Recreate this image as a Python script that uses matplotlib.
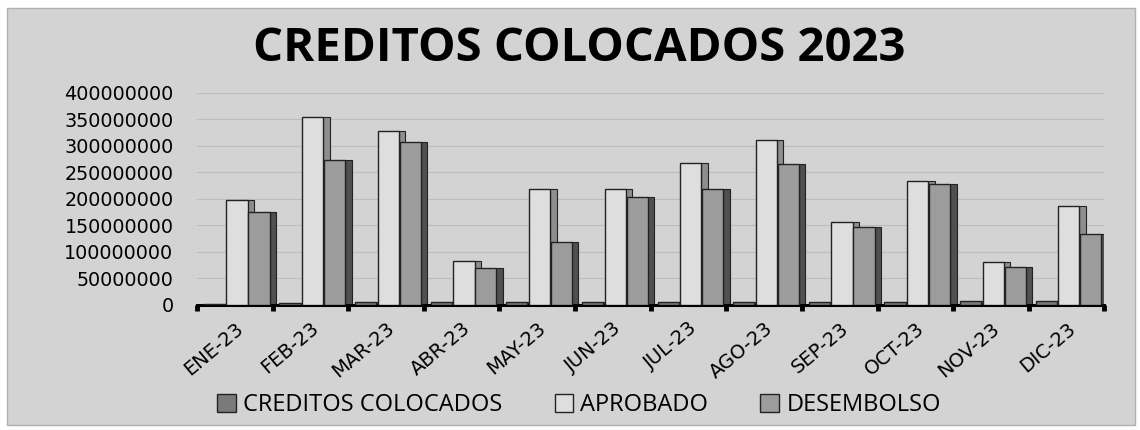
import matplotlib
matplotlib.use("Agg")
import matplotlib.pyplot as plt
import numpy as np
from matplotlib.patches import Rectangle, Patch
from matplotlib.ticker import FuncFormatter, FixedLocator

months = ["ENE-23", "FEB-23", "MAR-23", "ABR-23", "MAY-23", "JUN-23",
          "JUL-23", "AGO-23", "SEP-23", "OCT-23", "NOV-23", "DIC-23"]
creditos = [2e6, 4e6, 5e6, 5e6, 5e6, 5e6, 5e6, 5e6, 6e6, 6e6, 7e6, 7e6]
aprobado = [197e6, 355e6, 329e6, 82e6, 218e6, 218e6, 267e6, 311e6, 157e6, 233e6, 80e6, 186e6]
desembolso = [175e6, 274e6, 308e6, 70e6, 118e6, 203e6, 219e6, 266e6, 146e6, 229e6, 72e6, 134e6]
series_names = ["CREDITOS COLOCADOS", "APROBADO", "DESEMBOLSO"]
yticks = [0, 50000000, 100000000, 150000000, 200000000, 250000000,
          300000000, 350000000, 400000000]
title = "CREDITOS COLOCADOS 2023"

fig = plt.figure(figsize=(11.4, 4.3), dpi=100, facecolor="white")
fig.patches.append(Rectangle((0.006, 0.012), 0.99, 0.97, transform=fig.transFigure,
                             facecolor="#d3d3d3", edgecolor="#b0b0b0", lw=1, zorder=-10))
ax = fig.add_axes([0.1728, 0.291, 0.796, 0.493])
ax.set_facecolor("none")

x = np.arange(len(months))
w = 0.28
sw = 0.09
offs = [-0.27, 0.03, 0.32]
fronts = ["#7a7a7a", "#dedede", "#9c9c9c"]
sides = ["#4a4a4a", "#8e8e8e", "#505050"]
data = [creditos, aprobado, desembolso]
for vals, off, fc, sc in zip(data, offs, fronts, sides):
    ax.bar(x + off + w / 2 + sw / 2 - 0.005, vals, width=sw, color=sc,
           edgecolor="#222222", linewidth=0.8, zorder=2)
    ax.bar(x + off, vals, width=w, color=fc, edgecolor="#222222", linewidth=1.0, zorder=3)

ax.set_xlim(-0.5, len(months) - 0.5)
ax.set_ylim(0, 400000000)
ax.yaxis.set_major_locator(FixedLocator(yticks))
ax.yaxis.set_major_formatter(FuncFormatter(lambda v, p: f"{int(v)}"))
ax.grid(axis="y", color="#bdbdbd", lw=0.8, zorder=0)
for s in ["left", "right", "top"]:
    ax.spines[s].set_visible(False)
ax.spines["bottom"].set_linewidth(2.2)
ax.spines["bottom"].set_color("black")
ax.tick_params(axis="y", length=0, labelsize=13.8, pad=17)
ax.set_xticks(x)
ax.set_xticklabels(months, rotation=40, ha="right", va="top", rotation_mode="anchor",
                   fontsize=14)
ax.tick_params(axis="x", which="major", length=0, pad=10)
ax.set_xticks(np.arange(len(months) + 1) - 0.5, minor=True)
ax.tick_params(axis="x", which="minor", length=4, width=3.5, color="black")
for lab in ax.get_yticklabels() + ax.get_xticklabels():
    lab.set_family("DejaVu Sans")

fig.text(0.508, 0.888, title, ha="center", va="center", fontsize=34,
         fontweight="bold", family="Open Sans", color="black")

handles = [Patch(facecolor=c, edgecolor="#222222") for c in fronts]
fig.legend(handles, series_names, loc="center", bbox_to_anchor=(0.508, 0.058), ncol=3,
           frameon=False, handlelength=0.8, handleheight=0.8,
           handletextpad=0.3, columnspacing=2.2, prop={"family": "Open Sans", "size": 17})

fig.savefig("out.png", dpi=100, facecolor=fig.get_facecolor())
